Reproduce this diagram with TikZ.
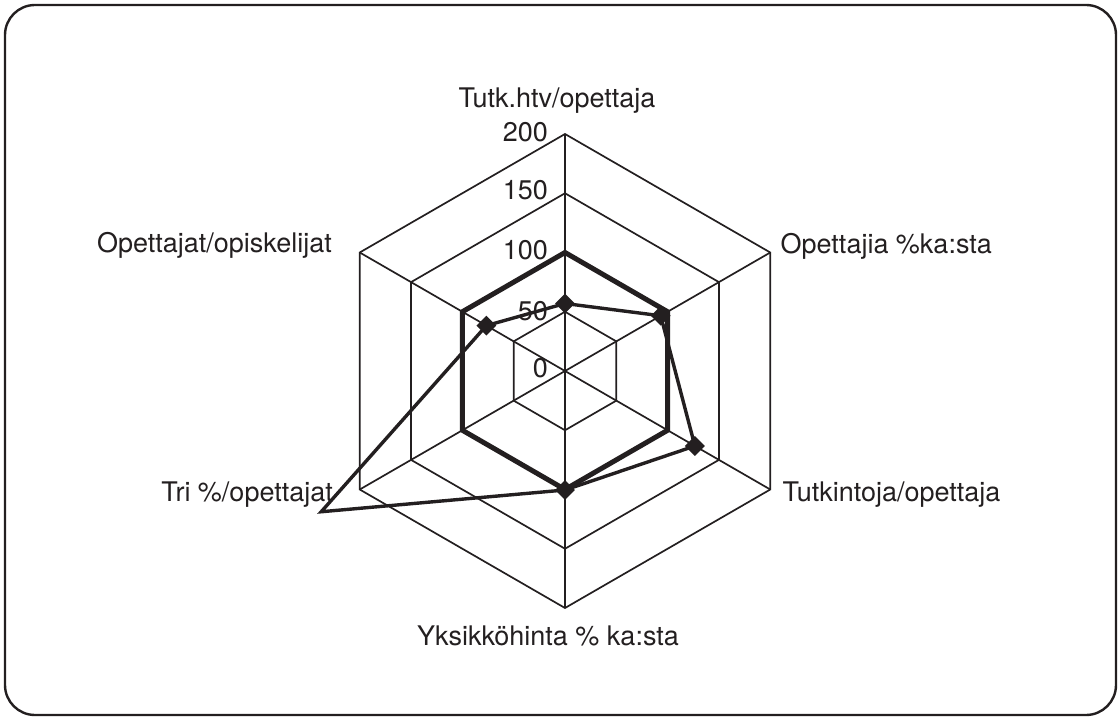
\documentclass[tikz,border=0pt]{standalone}
\usepackage{fontspec}
\setmainfont{TeX Gyre Heros}
\usetikzlibrary{shapes.geometric}
\definecolor{ink}{HTML}{231F20}
\begin{document}
\begin{tikzpicture}[x=1pt,y=-1pt,
  grid/.style={draw=ink,line width=1.7pt},
  ring/.style={draw=ink,line width=5pt,line join=miter},
  series/.style={draw=ink,line width=3.4pt,line join=miter},
  dmark/.style={diamond,fill=ink,minimum size=20pt,inner sep=0pt},
  lab/.style={font=\fontsize{27}{32}\selectfont,text=ink,inner sep=0pt},
  frame/.style={draw=ink,line width=2.4pt,rounded corners=30pt}]
\useasboundingbox (0,0) rectangle (1120,719);
\draw[frame] (5,5) rectangle (1116,715);
\begin{scope}[shift={(565,371)}]
  \coordinate (C) at (0,0);
  \foreach \r in {59.25,177.75,237}{
    \draw[grid] (-90:\r) -- (-30:\r) -- (30:\r) -- (90:\r) -- (150:\r) -- (210:\r) -- cycle;
  }
  \foreach \a/\n in {-90/a1,-30/a2,30/a3,90/a4,150/a5,210/a6}{
    \coordinate (\n) at (\a:237);
    \draw[grid] (C) -- (\n);
  }
  \draw[ring] (-90:118.5) -- (-30:118.5) -- (30:118.5) -- (90:118.5) -- (150:118.5) -- (210:118.5) -- cycle;
  \coordinate (d1) at (-90:67.5);
  \coordinate (d2) at (-30:110.5);
  \coordinate (d3) at (30:150);
  \coordinate (d4) at (90:119);
  \coordinate (d5) at (150:281.5);
  \coordinate (d6) at (210:90.8);
  \draw[series] (d1) -- (d2) -- (d3) -- (d4) -- (d5) -- (d6) -- cycle;
  \node[dmark] (m1) at (d1) {};
  \node[dmark] (m2) at (d2) {};
  \node[dmark] (m3) at (d3) {};
  \node[dmark] (m4) at (d4) {};
  \node[dmark] (m6) at (d6) {};
\end{scope}
\node[lab,anchor=east] (t0) at (548,368) {0};
\node[lab,anchor=east] (t50) at (548,311.5) {50};
\node[lab,anchor=east] (t100) at (548,250) {100};
\node[lab,anchor=east] (t150) at (548,190.5) {150};
\node[lab,anchor=east] (t200) at (548,132) {200};
\node[lab,anchor=base] (l1) at (557,108) {Tutk.htv/opettaja};
\node[lab,anchor=base west] (l2) at (780.5,254) {Opettajia \%ka:sta};
\node[lab,anchor=base west] (l3) at (782.5,501.5) {Tutkintoja/opettaja};
\node[lab,anchor=base] (l4) at (548,645) {Yksikköhinta \% ka:sta};
\node[lab,anchor=base east] (l5) at (333,501.5) {Tri \%/opettajat};
\node[lab,anchor=base east] (l6) at (332,253) {Opettajat/opiskelijat};
\end{tikzpicture}
\end{document}
